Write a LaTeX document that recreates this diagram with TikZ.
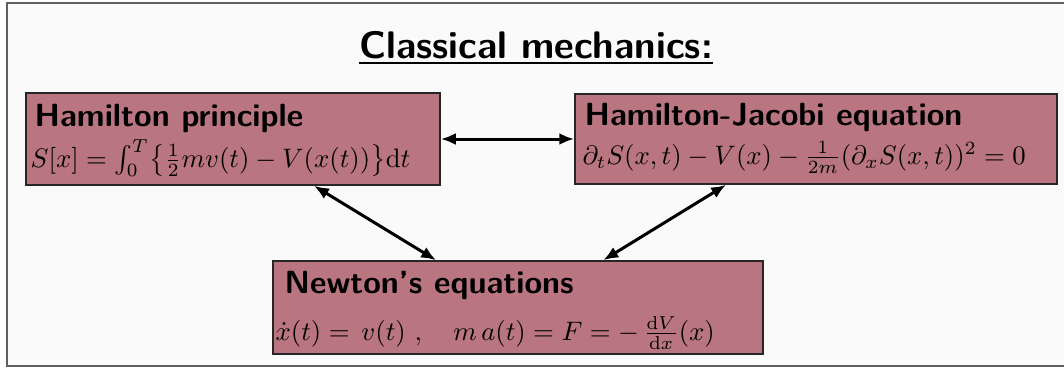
\documentclass[tikz,border=0pt]{standalone}
\usepackage{graphicx}
\usetikzlibrary{arrows.meta,fit}
\definecolor{boxfill}{RGB}{185,117,128}
\definecolor{bgcol}{RGB}{250,250,250}
\definecolor{framecol}{RGB}{95,95,95}
\def\pxu{0.3086pt}
\newcommand{\fml}[1]{\scalebox{0.825}{$#1$}}
\begin{document}
\begin{tikzpicture}[x=\pxu,y=-\pxu,
  box/.style={draw=black!85, line width=1.5*\pxu, fill=boxfill, inner sep=0pt},
  head/.style={inner sep=0pt, font=\sffamily\bfseries\fontsize{9.9}{12}\selectfont},
  formula/.style={inner sep=0pt, font=\fontsize{10}{12}\selectfont},
  titlestyle/.style={inner sep=0pt, font=\sffamily\bfseries\fontsize{11.85}{14}\selectfont},
  conn/.style={line width=3*\pxu, {Latex[length=15*\pxu,width=12*\pxu]}-{Latex[length=15*\pxu,width=12*\pxu]}}]
\useasboundingbox (0,0) rectangle (1064,368);
\fill[white] (0,0) rectangle (1064,368);
\draw[framecol, line width=2*\pxu, fill=bgcol] (7,3) rectangle (1075,366);
\node[titlestyle, anchor=base] (title) at (536,58) {\underline{Classical mechanics:}};
% boxes
\node[box, fit={(26,93) (440,185)}] (hp) {};
\node[box, fit={(575,94) (1057,184)}] (hj) {};
\node[box, fit={(273,261) (763,354)}] (nw) {};
% texts
\node[head, anchor=base west] (hpt) at (34,126) {Hamilton principle};
\node[formula, anchor=base west] (hpf) at (30,167) {\fml{S[x]=\int_0^T\bigl\{\frac{1}{2}mv(t)-V(x(t))\bigr\}\mathrm{d}t}};
\node[head, anchor=base west] (hjt) at (584,125) {Hamilton-Jacobi equation};
\node[formula, anchor=base west] (hjf) at (582,164) {\fml{\partial_t S(x,t)-V(x)-\frac{1}{2m}(\partial_x S(x,t))^2=0}};
\node[head, anchor=base west] (nwt) at (284,293) {Newton's equations};
\node[formula, anchor=base west] (nwf) at (275,340) {\fml{\dot{x}(t)=\,v(t)\ ,\quad m\,a(t)=F=-\,\frac{\mathrm{d}V}{\mathrm{d}x}(x)}};
% connectors
\draw[conn] (hp.east) -- (hj.west);
\draw[conn] (hp.-30) -- (nw.150);
\draw[conn] (hj.207) -- (nw.29);
\end{tikzpicture}
\end{document}
